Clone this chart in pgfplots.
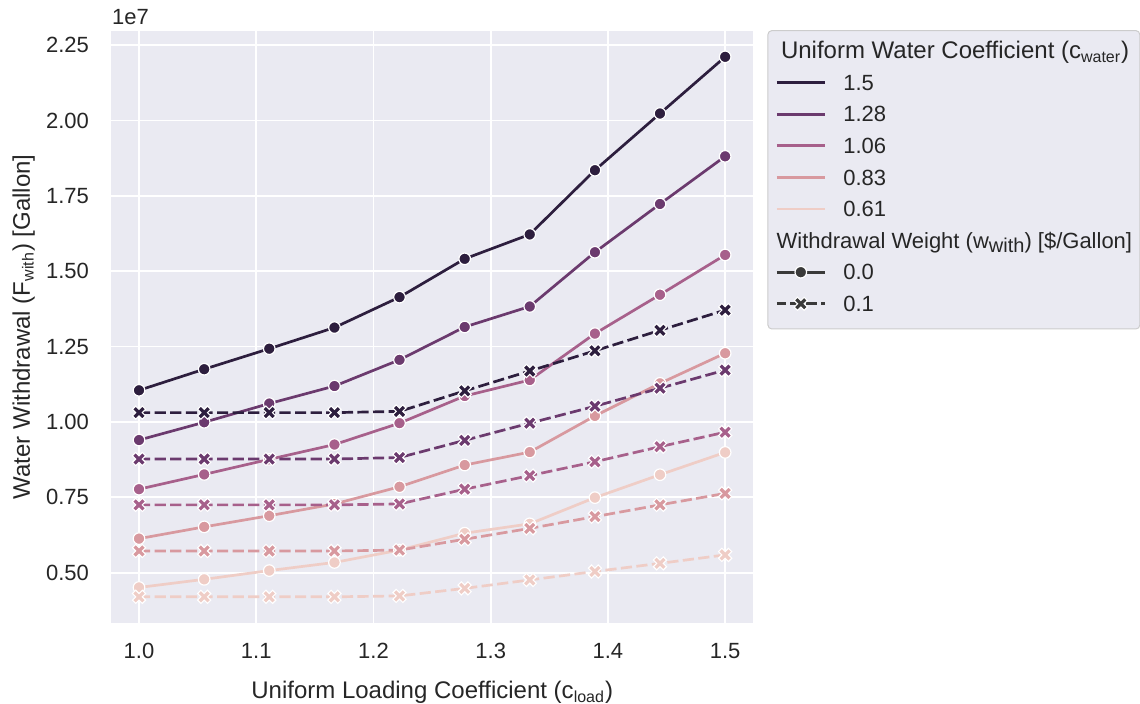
\documentclass[border=0pt]{standalone}
\usepackage{fontspec}
\setmainfont{Liberation Sans}
\usepackage{pgfplots}
\usepackage{pgfplotstable}
\pgfplotsset{compat=1.18}

\definecolor{cA}{HTML}{2D1E3E}
\definecolor{cB}{HTML}{6B3A6E}
\definecolor{cC}{HTML}{A7608B}
\definecolor{cD}{HTML}{D8999F}
\definecolor{cE}{HTML}{EFCDC6}
\definecolor{bgc}{HTML}{EAEAF2}
\definecolor{frc}{HTML}{CCCCCC}
\definecolor{tc}{HTML}{262626}
\definecolor{lg}{HTML}{3A3A3A}

\pgfdeclareplotmark{Xf}{%
  \pgftransformrotate{45}%
  \pgfpathmoveto{\pgfqpoint{0.333\pgfplotmarksize}{0.333\pgfplotmarksize}}%
  \pgfpathlineto{\pgfqpoint{0.333\pgfplotmarksize}{\pgfplotmarksize}}%
  \pgfpathlineto{\pgfqpoint{-0.333\pgfplotmarksize}{\pgfplotmarksize}}%
  \pgfpathlineto{\pgfqpoint{-0.333\pgfplotmarksize}{0.333\pgfplotmarksize}}%
  \pgfpathlineto{\pgfqpoint{-\pgfplotmarksize}{0.333\pgfplotmarksize}}%
  \pgfpathlineto{\pgfqpoint{-\pgfplotmarksize}{-0.333\pgfplotmarksize}}%
  \pgfpathlineto{\pgfqpoint{-0.333\pgfplotmarksize}{-0.333\pgfplotmarksize}}%
  \pgfpathlineto{\pgfqpoint{-0.333\pgfplotmarksize}{-\pgfplotmarksize}}%
  \pgfpathlineto{\pgfqpoint{0.333\pgfplotmarksize}{-\pgfplotmarksize}}%
  \pgfpathlineto{\pgfqpoint{0.333\pgfplotmarksize}{-0.333\pgfplotmarksize}}%
  \pgfpathlineto{\pgfqpoint{\pgfplotmarksize}{-0.333\pgfplotmarksize}}%
  \pgfpathlineto{\pgfqpoint{\pgfplotmarksize}{0.333\pgfplotmarksize}}%
  \pgfpathclose
  \pgfusepathqfillstroke
}

\pgfplotsset{
  sO/.style={color=#1, line width=1.35pt, solid, mark=*, mark size=2.9pt,
    mark options={solid, fill=#1, draw=white, line width=0.6pt}},
  sX/.style={color=#1, line width=1.35pt, dash pattern=on 5.6pt off 2.2pt, mark=Xf, mark size=3.5pt,
    mark options={solid, fill=#1, draw=white, line width=0.55pt}},
}

% x, then F_with in units of 1e7 gallons
\pgfplotstableread{
x       a0    a1    b0    b1    c0    c1    d0    d1    e0    e1
1.0000  1.105 1.031 0.940 0.877 0.777 0.725 0.613 0.572 0.451 0.420
1.0556  1.175 1.031 0.999 0.877 0.826 0.725 0.652 0.572 0.478 0.420
1.1111  1.243 1.031 1.061 0.877 0.876 0.725 0.689 0.572 0.507 0.420
1.1667  1.313 1.031 1.119 0.877 0.925 0.725 0.728 0.572 0.534 0.420
1.2222  1.414 1.035 1.206 0.882 0.996 0.728 0.785 0.575 0.575 0.423
1.2778  1.541 1.103 1.315 0.939 1.086 0.777 0.857 0.611 0.631 0.448
1.3333  1.622 1.169 1.383 0.996 1.139 0.822 0.900 0.647 0.662 0.476
1.3889  1.835 1.236 1.563 1.052 1.293 0.868 1.020 0.686 0.749 0.504
1.4444  2.023 1.304 1.723 1.112 1.422 0.918 1.128 0.725 0.825 0.531
1.5000  2.211 1.371 1.881 1.172 1.554 0.966 1.228 0.763 0.899 0.559
}\datatab

\begin{document}
\begin{tikzpicture}
\useasboundingbox (-55.5pt,-40.65pt) rectangle (514.5pt,311.35pt);
\begin{axis}[
  name=ax,
  scale only axis, width=321.2pt, height=295.8pt,
  xmin=0.9761, xmax=1.5241, ymin=0.3342, ymax=2.2964,
  axis background/.style={fill=bgc},
  axis line style={draw=none},
  grid=major, major grid style={white, line width=0.85pt},
  tick style={draw=none},
  xtick={1.0,1.1,1.2,1.3,1.4,1.5},
  ytick={0.5,0.75,1.0,1.25,1.5,1.75,2.0,2.25},
  /pgf/number format/assume math mode=true,
  ticklabel style={font=\fontsize{11}{13}\selectfont, text=tc},
  xticklabel style={/pgf/number format/.cd, fixed, fixed zerofill, precision=1, /tikz/.cd, anchor=north, inner sep=0pt, yshift=-10.15pt},
  yticklabel style={/pgf/number format/.cd, fixed, fixed zerofill, precision=2, /tikz/.cd, anchor=east, inner sep=0pt, xshift=-10.85pt},
  xlabel={Uniform Loading Coefficient (c\textsubscript{load})},
  xlabel style={at={(axis description cs:0.5,0)}, anchor=north, inner sep=0pt, yshift=-29.2pt, font=\fontsize{12}{14}\selectfont, text=tc},
  ylabel={Water Withdrawal (F\textsubscript{with}) [Gallon]},
  ylabel style={at={(axis description cs:-0.1261,0.5)}, anchor=base, inner sep=0pt, rotate=0, font=\fontsize{12}{14}\selectfont, text=tc},
  legend cell align=left,
  legend style={at={(axis description cs:1.0218,1.0017)}, anchor=north west,
    fill=bgc, draw=frc, rounded corners=2pt, line width=0.5pt,
    inner xsep=3.85pt, inner ysep=3.5pt,
    font=\fontsize{11}{13}\selectfont, text=tc,
    row sep=0pt,
    nodes={inner xsep=0pt, inner ysep=2.4pt, text height=8.2pt, text depth=2.8pt, anchor=west}},
  /tikz/every odd column/.append style={column sep=8.65pt},
  legend image code/.code={\draw[mark repeat=2, mark phase=2, #1] plot coordinates {(0pt,1.2pt) (11.925pt,1.2pt) (23.85pt,1.2pt)};},
]
% legend entries
\addlegendimage{empty legend}
\addlegendentry{\hspace{-31.15pt}{\fontsize{12}{14}\selectfont Uniform Water Coefficient (c\textsubscript{water})}}
\addlegendimage{cA, line width=1.35pt}\addlegendentry{1.5}
\addlegendimage{cB, line width=1.35pt}\addlegendentry{1.28}
\addlegendimage{cC, line width=1.35pt}\addlegendentry{1.06}
\addlegendimage{cD, line width=1.35pt}\addlegendentry{0.83}
\addlegendimage{cE, line width=1.35pt}\addlegendentry{0.61}
\addlegendimage{empty legend}
\addlegendentry{\hspace{-33.35pt}Withdrawal Weight (w\raisebox{-2pt}{\fontsize{10}{11}\selectfont with}) [\$/Gallon]}
\addlegendimage{sO=lg}\addlegendentry{0.0}
\addlegendimage{sX=lg, dash phase=1.2pt}\addlegendentry{0.1}

% data, lowest hue level drawn first
\addplot[sO=cE, forget plot] table[x=x, y=e0] {\datatab};
\addplot[sX=cE, forget plot] table[x=x, y=e1] {\datatab};
\addplot[sO=cD, forget plot] table[x=x, y=d0] {\datatab};
\addplot[sX=cD, forget plot] table[x=x, y=d1] {\datatab};
\addplot[sO=cC, forget plot] table[x=x, y=c0] {\datatab};
\addplot[sX=cC, forget plot] table[x=x, y=c1] {\datatab};
\addplot[sO=cB, forget plot] table[x=x, y=b0] {\datatab};
\addplot[sX=cB, forget plot] table[x=x, y=b1] {\datatab};
\addplot[sO=cA, forget plot] table[x=x, y=a0] {\datatab};
\addplot[sX=cA, forget plot] table[x=x, y=a1] {\datatab};
\end{axis}
\node[anchor=base west, inner sep=0pt, font=\fontsize{11}{13}\selectfont, text=tc] at ([xshift=0.35pt, yshift=3.5pt]ax.north west) {1e7};
\end{tikzpicture}
\end{document}
